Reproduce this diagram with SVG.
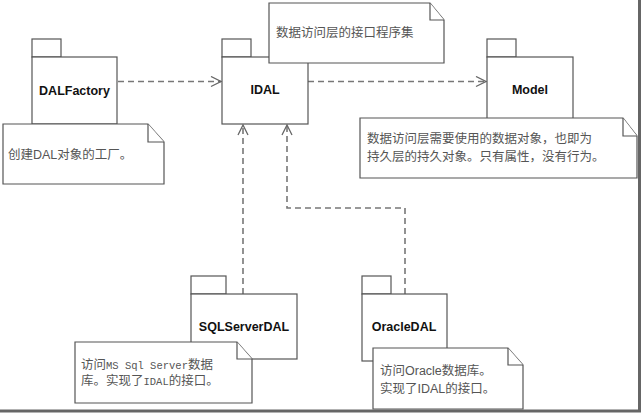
<svg xmlns="http://www.w3.org/2000/svg" width="644" height="416" viewBox="0 0 644 416">
<defs>
<style>
.box{fill:#fff;stroke:#555;stroke-width:1.2}
.lbl{font-family:"Liberation Sans",Arial,sans-serif;font-weight:bold;font-size:12.5px;fill:#111;text-anchor:middle}
.note{fill:#fff;stroke:#555;stroke-width:1.2}
.nt{font-family:"Liberation Sans","Noto Sans CJK SC",sans-serif;font-size:12.5px;fill:#555}
.mono{font-family:"Liberation Mono",monospace;font-size:10.5px}
.dep{fill:none;stroke:#777;stroke-width:1.6;stroke-dasharray:6,4}
.frame{stroke:#666;fill:none}
</style>
<marker id="open" viewBox="0 0 12 12" refX="11" refY="6" markerWidth="12" markerHeight="12" markerUnits="userSpaceOnUse" orient="auto">
<path d="M1,1 L11,6 L1,11" fill="none" stroke="#666" stroke-width="1.3"/>
</marker>
</defs>
<rect width="644" height="416" fill="#fff"/>
<g id="frame">
<line class="frame" x1="639.5" y1="0" x2="639.5" y2="412" stroke-width="3"/>
<line class="frame" x1="0" y1="411" x2="641" y2="411" stroke-width="3"/>
</g>
<g id="connectors">
<line class="dep" x1="118" y1="81.5" x2="221" y2="81.5" marker-end="url(#open)"/>
<line class="dep" x1="308" y1="81.5" x2="486" y2="81.5" marker-end="url(#open)"/>
<line class="dep" x1="243" y1="294" x2="243" y2="125" marker-end="url(#open)"/>
<polyline class="dep" points="405,294 405,208 287,208 287,125" marker-end="url(#open)"/>
</g>
<g id="DALFactory">
<rect class="box" x="32" y="39" width="29" height="18"/>
<rect class="box" x="32" y="57" width="85" height="67"/>
<text class="lbl" x="74.5" y="95">DALFactory</text>
</g>
<g id="IDAL">
<rect class="box" x="222" y="39" width="29" height="18"/>
<rect class="box" x="222" y="57" width="86" height="67"/>
<text class="lbl" x="265" y="94">IDAL</text>
</g>
<g id="Model">
<rect class="box" x="487" y="39" width="29" height="18"/>
<rect class="box" x="487" y="57" width="86" height="67"/>
<text class="lbl" x="530" y="94">Model</text>
</g>
<g id="SQLServerDAL">
<rect class="box" x="191" y="276" width="35" height="18"/>
<rect class="box" x="191" y="294" width="106" height="65"/>
<text class="lbl" x="244" y="331">SQLServerDAL</text>
</g>
<g id="OracleDAL">
<rect class="box" x="362" y="276" width="29" height="18"/>
<rect class="box" x="362" y="294" width="85" height="67"/>
<text class="lbl" x="404" y="331">OracleDAL</text>
</g>
<g id="note-factory">
<path class="note" d="M3,124 H148 L164,142 V184 H3 Z"/>
<path class="note" d="M148,124 V142 H164" fill="none"/>
<text class="nt" x="8" y="159">创建DAL对象的工厂。</text>
</g>
<g id="note-idal">
<path class="note" d="M269,3 H430 L444,20 V63 H269 Z"/>
<path class="note" d="M430,3 V20 H444" fill="none"/>
<text class="nt" x="276" y="37">数据访问层的接口程序集</text>
</g>
<g id="note-model">
<path class="note" d="M360,118 H623 L637,136 V178 H360 Z"/>
<path class="note" d="M623,118 V136 H637" fill="none"/>
<text class="nt" x="367" y="143">数据访问层需要使用的数据对象，也即为</text>
<text class="nt" x="367" y="161">持久层的持久对象。只有属性，没有行为。</text>
</g>
<g id="note-sql">
<path class="note" d="M75,342 H237 L252,359 V403 H75 Z"/>
<path class="note" d="M237,342 V359 H252" fill="none"/>
<text class="nt" x="81" y="369">访问<tspan class="mono">MS Sql Server</tspan>数据</text>
<text class="nt" x="81" y="385">库。实现了<tspan class="mono">IDAL</tspan>的接口。</text>
</g>
<g id="note-oracle">
<path class="note" d="M373,348 H508 L523,365 V409 H373 Z"/>
<path class="note" d="M508,348 V365 H523" fill="none"/>
<text class="nt" x="380" y="375">访问Oracle数据库。</text>
<text class="nt" x="380" y="393">实现了IDAL的接口。</text>
</g>
</svg>
